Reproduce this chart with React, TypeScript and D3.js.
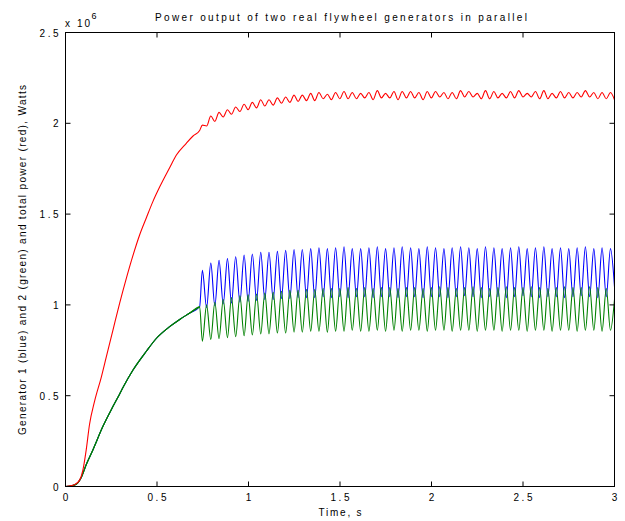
import React from "react";
import * as d3 from "d3";

// ---- data (power in units of 1e6 W, time in s) ----
const xTicks = [0, 0.5, 1, 1.5, 2, 2.5, 3];
const xTickLabels = ["0", "0.5", "1", "1.5", "2", "2.5", "3"];
const yTicks = [0, 0.5, 1, 1.5, 2, 2.5];
const yTickLabels = ["0", "0.5", "1", "1.5", "2", "2.5"];

// each generator before the oscillation starts (blue and green coincide)
const genRampT = [0, 0.03, 0.058, 0.086, 0.113, 0.149, 0.204, 0.259, 0.296, 0.314, 0.368, 0.442, 0.496, 0.569, 0.624, 0.679, 0.733];
const genRampV = [0, 0.003, 0.012, 0.05, 0.12, 0.2, 0.33, 0.44, 0.51, 0.545, 0.64, 0.745, 0.815, 0.88, 0.92, 0.955, 0.99];

// total power before the oscillation starts
const totRampT = [0, 0.049, 0.077, 0.095, 0.113, 0.131, 0.159, 0.195, 0.223, 0.259, 0.296, 0.332, 0.368, 0.405, 0.442, 0.478, 0.515, 0.569, 0.606, 0.66, 0.697, 0.733];
const totRampV = [0, 0.01, 0.035, 0.09, 0.2, 0.34, 0.47, 0.6, 0.714, 0.86, 1.01, 1.145, 1.27, 1.385, 1.48, 1.57, 1.65, 1.755, 1.825, 1.89, 1.93, 1.96];

// times of blue maxima / green minima, and blue minima / green maxima
const peakTimes = [0.748, 0.794, 0.839, 0.885, 0.930, 0.976, 1.021, 1.067, 1.112, 1.158,
  1.203, 1.249, 1.294, 1.340, 1.385, 1.431, 1.476, 1.522, 1.567, 1.613,
  1.658, 1.704, 1.749, 1.795, 1.840, 1.886, 1.931, 1.977, 2.022, 2.068,
  2.113, 2.159, 2.204, 2.250, 2.295, 2.341, 2.386, 2.432, 2.477, 2.523,
  2.568, 2.614, 2.659, 2.705, 2.750, 2.796, 2.841, 2.887, 2.932, 2.978];
const troughTimes = [0.771, 0.816, 0.862, 0.907, 0.953, 0.998, 1.044, 1.089, 1.135, 1.180,
  1.226, 1.271, 1.317, 1.362, 1.408, 1.453, 1.499, 1.544, 1.590, 1.635,
  1.681, 1.726, 1.772, 1.817, 1.863, 1.908, 1.954, 1.999, 2.045, 2.090,
  2.136, 2.181, 2.227, 2.272, 2.318, 2.363, 2.409, 2.454, 2.500, 2.545,
  2.591, 2.636, 2.682, 2.727, 2.773, 2.818, 2.864, 2.909, 2.955, 3.000];

const bluePeaks = [1.19, 1.23, 1.245, 1.255, 1.265, 1.275, 1.28, 1.29, 1.29, 1.295,
  1.30, 1.305, 1.305, 1.31, 1.315, 1.31, 1.315, 1.32, 1.31, 1.31,
  1.315, 1.32, 1.31, 1.315, 1.32, 1.315, 1.31, 1.32, 1.315, 1.31,
  1.315, 1.32, 1.315, 1.31, 1.32, 1.315, 1.31, 1.315, 1.32, 1.31,
  1.315, 1.32, 1.31, 1.315, 1.31, 1.315, 1.32, 1.31, 1.315, 1.31];
const blueTroughs = [0.985, 0.995, 1.005, 1.01, 1.015, 1.02, 1.025, 1.03, 1.03, 1.035,
  1.035, 1.04, 1.04, 1.04, 1.045, 1.04, 1.045, 1.04, 1.045, 1.045,
  1.04, 1.045, 1.045, 1.04, 1.045, 1.045, 1.04, 1.045, 1.045, 1.04,
  1.045, 1.05, 1.045, 1.04, 1.045, 1.045, 1.04, 1.045, 1.05, 1.045,
  1.04, 1.045, 1.045, 1.04, 1.045, 1.05, 1.045, 1.04, 1.045, 1.10];
const greenTroughs = [0.80, 0.81, 0.815, 0.82, 0.825, 0.83, 0.835, 0.84, 0.84, 0.845,
  0.845, 0.85, 0.85, 0.855, 0.855, 0.85, 0.855, 0.855, 0.86, 0.855,
  0.855, 0.86, 0.855, 0.86, 0.855, 0.86, 0.86, 0.855, 0.86, 0.86,
  0.855, 0.86, 0.86, 0.855, 0.86, 0.86, 0.855, 0.86, 0.86, 0.855,
  0.86, 0.86, 0.855, 0.86, 0.86, 0.855, 0.86, 0.86, 0.855, 0.86];
const greenPeaks = [1.00, 1.015, 1.03, 1.04, 1.05, 1.055, 1.06, 1.065, 1.07, 1.075,
  1.08, 1.08, 1.085, 1.085, 1.09, 1.09, 1.09, 1.095, 1.09, 1.095,
  1.09, 1.095, 1.095, 1.09, 1.095, 1.095, 1.09, 1.095, 1.10, 1.095,
  1.09, 1.095, 1.10, 1.095, 1.09, 1.095, 1.10, 1.095, 1.095, 1.10,
  1.095, 1.09, 1.095, 1.10, 1.095, 1.095, 1.10, 1.095, 1.09, 1.03];

type P = [number, number];

function buildSeries() {
  const ramp: P[] = genRampT.map((t, i) => [t, genRampV[i]]);
  const blue: P[] = [...ramp];
  const green: P[] = [...ramp];
  const red: P[] = totRampT.map((t, i) => [t, totRampV[i]]);
  peakTimes.forEach((t, k) => {
    blue.push([t, bluePeaks[k]]);
    green.push([t, greenTroughs[k]]);
    red.push([t, bluePeaks[k] + greenTroughs[k]]);
    const t2 = troughTimes[k];
    blue.push([t2, blueTroughs[k]]);
    green.push([t2, greenPeaks[k]]);
    red.push([t2, blueTroughs[k] + greenPeaks[k]]);
  });
  return { blue, green, red };
}

const FONT = "'Liberation Sans', Arial, Helvetica, sans-serif";

export default function App() {
  const x = d3.scaleLinear().domain([0, 3]).range([65.5, 614.5]);
  const y = d3.scaleLinear().domain([0, 2.5]).range([486.5, 32.5]);
  const line = d3
    .line<P>()
    .x((d) => x(d[0]))
    .y((d) => y(d[1]))
    .curve(d3.curveMonotoneX);
  const { blue, green, red } = buildSeries();
  const x0 = x(0), x1 = x(3), y0 = y(0), y1 = y(2.5);
  const tl = 5;

  return (
    <svg
      width={625}
      height={521}
      style={{ position: "absolute", left: 0, top: 0, background: "#fff" }}
      fontFamily={FONT}
    >
      <rect x={0} y={0} width={625} height={521} fill="#fff" />
      <defs>
        <clipPath id="plotclip">
          <rect x={x0} y={y1} width={x1 - x0} height={y0 - y1} />
        </clipPath>
      </defs>

      <g clipPath="url(#plotclip)" fill="none" strokeWidth={1.1}>
        <path d={line(blue) || ""} stroke="#0000ff" />
        <path d={line(green) || ""} stroke="#008000" />
        <path d={line(green.slice(0, genRampT.length)) || ""} stroke="#008000" />
        <path d={line(red) || ""} stroke="#ff0000" />
      </g>

      {/* frame */}
      <rect x={x0} y={y1} width={x1 - x0} height={y0 - y1} fill="none" stroke="#000" strokeWidth={1} />

      {/* ticks */}
      <g stroke="#000" strokeWidth={1}>
        {xTicks.map((t) => (
          <g key={"xt" + t}>
            <line x1={x(t)} x2={x(t)} y1={y0} y2={y0 - tl} />
            <line x1={x(t)} x2={x(t)} y1={y1} y2={y1 + tl} />
          </g>
        ))}
        {yTicks.map((t) => (
          <g key={"yt" + t}>
            <line x1={x0} x2={x0 + tl} y1={y(t)} y2={y(t)} />
            <line x1={x1} x2={x1 - tl} y1={y(t)} y2={y(t)} />
          </g>
        ))}
      </g>

      {/* tick labels */}
      <g fontSize={10} fill="#000" letterSpacing={2.5}>
        {xTicks.map((t, i) => (
          <text key={"xl" + t} x={x(t) + 1.25} y={501} textAnchor="middle">
            {xTickLabels[i]}
          </text>
        ))}
        {yTicks.map((t, i) => (
          <text key={"yl" + t} x={61} y={y(t) + 4} textAnchor="end">
            {yTickLabels[i]}
          </text>
        ))}
      </g>

      {/* exponent */}
      <g fontSize={10} fill="#000">
        <text x={65} y={26.5}>x</text>
        <text x={77} y={26.5} letterSpacing={2}>10</text>
        <text x={91.5} y={18.5} fontSize={9}>6</text>
      </g>

      {/* title & labels */}
      <text x={341} y={20.5} fontSize={10} textAnchor="middle" textLength={372} lengthAdjust="spacing">
        Power output of two real flywheel generators in parallel
      </text>
      <text x={340} y={516} fontSize={10} textAnchor="middle" textLength={43} lengthAdjust="spacing">
        Time, s
      </text>
      <text
        transform={`translate(26, 260) rotate(-90)`}
        fontSize={10}
        textAnchor="middle"
        textLength={350}
        lengthAdjust="spacing"
      >
        Generator 1 (blue) and 2 (green) and total power (red), Watts
      </text>
    </svg>
  );
}
